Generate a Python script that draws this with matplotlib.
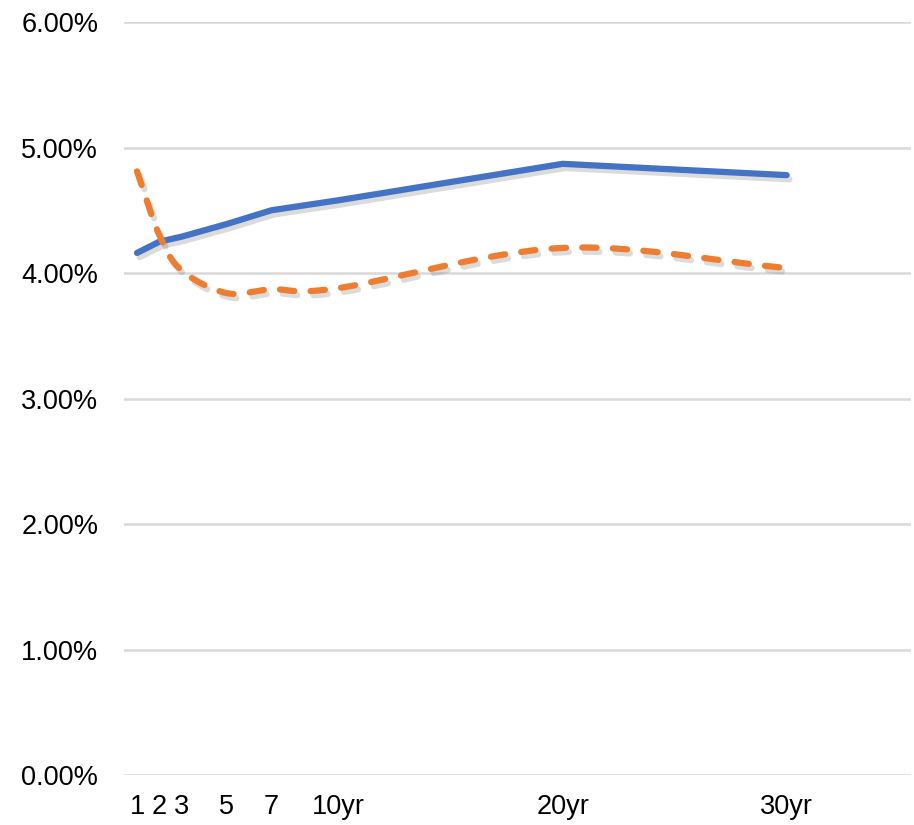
import numpy as np
import matplotlib.pyplot as plt
import matplotlib.patheffects as pe
from matplotlib.ticker import PercentFormatter

plt.rcParams["font.family"] = ["Liberation Sans", "DejaVu Sans"]

maturities = [1, 2, 3, 5, 7, 10, 20, 30]
tick_labels = ["1", "2", "3", "5", "7", "10yr", "20yr", "30yr"]
curve_now = [4.16, 4.25, 4.29, 4.39, 4.50, 4.58, 4.87, 4.78]
curve_prev = [4.81, 4.30, 4.02, 3.84, 3.87, 3.88, 4.20, 4.04]


def smooth(x, y, n=30):
    # catmull-rom through the points, like Excel's smoothed line
    x = np.asarray(x, float)
    y = np.asarray(y, float)
    px = np.concatenate([[2 * x[0] - x[1]], x, [2 * x[-1] - x[-2]]])
    py = np.concatenate([[2 * y[0] - y[1]], y, [2 * y[-1] - y[-2]]])
    xs, ys = [], []
    t = np.linspace(0, 1, n, endpoint=False)
    for i in range(1, len(px) - 2):
        for p, out in ((px, xs), (py, ys)):
            p0, p1, p2, p3 = p[i - 1], p[i], p[i + 1], p[i + 2]
            out.extend(0.5 * (2 * p1 + (-p0 + p2) * t
                              + (2 * p0 - 5 * p1 + 4 * p2 - p3) * t ** 2
                              + (-p0 + 3 * p1 - 3 * p2 + p3) * t ** 3))
    xs.append(x[-1])
    ys.append(y[-1])
    return np.array(xs), np.array(ys)


fig = plt.figure(figsize=(9.14, 8.25), dpi=100)
ax = fig.add_axes([0.1357, 0.0606, 0.861, 0.9127])

shadow = [pe.SimpleLineShadow(offset=(2, -3), shadow_color="#888888", alpha=0.3), pe.Normal()]

ax.plot(maturities, curve_now, color="#4472C4", lw=4.5,
        solid_capstyle="round", solid_joinstyle="round", path_effects=shadow, zorder=3)
sx, sy = smooth(maturities, curve_prev)
ax.plot(sx, sy, color="#ED7D31", lw=4.5, dashes=(2.3, 2.6),
        dash_capstyle="round", path_effects=shadow, zorder=3)

ax.set_xlim(0.42, 35.55)
ax.set_ylim(0, 6)
ax.set_yticks(np.arange(0, 6.01, 1))
ax.yaxis.set_major_formatter(PercentFormatter(decimals=2))
ax.set_xticks(maturities)
ax.set_xticklabels(tick_labels)
ax.grid(axis="y", color="#d9d9d9", lw=1.8)
ax.set_axisbelow(True)
for s in ax.spines.values():
    s.set_visible(False)
ax.tick_params(length=0, labelsize=19.5, colors="black")
ax.tick_params(axis="y", pad=18.5)
ax.tick_params(axis="x", pad=14)

plt.savefig("out.png", dpi=100)
plt.close()
